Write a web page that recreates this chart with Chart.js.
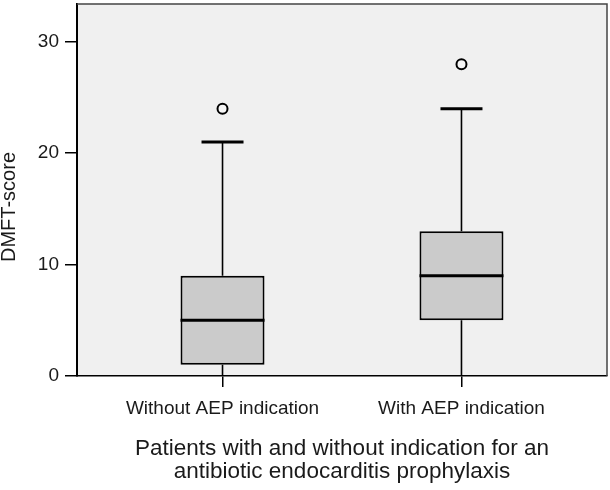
<!DOCTYPE html>
<html>
<head>
<meta charset="utf-8">
<script src="https://cdn.jsdelivr.net/npm/chart.js@4"></script>
<style>
  html, body { margin: 0; padding: 0; background: #ffffff; }
  #wrap { width: 610px; height: 490px; }
</style>
</head>
<body>
<div id="wrap"><canvas id="c" width="610" height="490"></canvas></div>
<script>
// ---- data ----
const categories = ['Without AEP indication', 'With AEP indication'];
const whiskerLow = [0, 0];
const q1 = [1, 5];
const median = [5, 9];
const q3 = [9, 13];
const whiskerHigh = [21, 24];
const outliers = [24, 28];
const yTicks = [0, 10, 20, 30];
const yTitle = 'DMFT-score';
const xTitle = ['Patients with and without indication for an', 'antibiotic endocarditis prophylaxis'];

const FONT = "'Liberation Sans', Arial, Helvetica, sans-serif";
const TEXT = '#1a1a1a';

const boxPlugin = {
  id: 'boxParts',
  beforeDraw(chart) {
    const {ctx, chartArea: a} = chart;
    ctx.save();
    ctx.fillStyle = '#f0f0f0';
    ctx.fillRect(a.left, a.top, a.right - a.left, a.bottom - a.top);
    ctx.restore();
  },
  afterDatasetsDraw(chart) {
    const {ctx, scales: {x, y}} = chart;
    ctx.save();
    ctx.strokeStyle = '#000';
    ctx.lineCap = 'butt';
    categories.forEach((c, i) => {
      const cx = x.getPixelForValue(i);
      // whiskers
      ctx.lineWidth = 1.6;
      ctx.beginPath();
      ctx.moveTo(cx, y.getPixelForValue(q3[i]));
      ctx.lineTo(cx, y.getPixelForValue(whiskerHigh[i]));
      ctx.moveTo(cx, y.getPixelForValue(q1[i]));
      ctx.lineTo(cx, y.getPixelForValue(whiskerLow[i]));
      ctx.stroke();
      // cap
      ctx.lineWidth = 3;
      ctx.beginPath();
      const yh = y.getPixelForValue(whiskerHigh[i]);
      ctx.moveTo(cx - 21, yh);
      ctx.lineTo(cx + 21, yh);
      ctx.stroke();
      // median
      ctx.lineWidth = 3;
      ctx.beginPath();
      const ym = y.getPixelForValue(median[i]);
      ctx.moveTo(cx - 42, ym);
      ctx.lineTo(cx + 42, ym);
      ctx.stroke();
    });
    ctx.restore();
  },
  afterDraw(chart) {
    const {ctx, chartArea: a} = chart;
    ctx.save();
    // frame top and right
    ctx.strokeStyle = '#444';
    ctx.lineWidth = 1.5;
    ctx.beginPath();
    ctx.moveTo(a.left, a.top);
    ctx.lineTo(a.right, a.top);
    ctx.lineTo(a.right, a.bottom);
    ctx.stroke();
    // y axis title
    ctx.fillStyle = TEXT;
    ctx.font = '20px ' + FONT;
    ctx.textAlign = 'center';
    ctx.textBaseline = 'alphabetic';
    ctx.translate(15, (a.top + a.bottom) / 2 + 17);
    ctx.rotate(-Math.PI / 2);
    ctx.fillText(yTitle, 0, 0);
    ctx.restore();
  }
};

new Chart(document.getElementById('c'), {
  type: 'bar',
  data: {
    datasets: [
      {
        type: 'bar',
        data: categories.map((c, i) => ({x: i, y: [q1[i], q3[i]]})),
        backgroundColor: '#cbcbcb',
        borderColor: '#000',
        borderWidth: 2,
        borderSkipped: false,
        barThickness: 84,
        inflateAmount: 0
      },
      {
        type: 'scatter',
        data: categories.map((c, i) => ({x: i, y: outliers[i]})),
        pointRadius: 5,
        pointBorderWidth: 2,
        pointBackgroundColor: '#f6f6f6',
        pointBorderColor: '#000',
        showLine: false
      }
    ]
  },
  options: {
    responsive: false,
    animation: false,
    events: [],
    layout: { autoPadding: false, padding: { left: 0, right: 3, top: 4, bottom: 0 } },
    plugins: { legend: { display: false }, tooltip: { enabled: false } },
    scales: {
      x: {
        type: 'linear',
        offset: false,
        min: -0.609,
        max: 1.609,
        afterBuildTicks(scale) { scale.ticks = categories.map((c, i) => ({value: i})); },
        afterFit(scale) { scale.height = 114; scale.paddingLeft = 0; scale.paddingRight = 0; },
        grid: { display: true, offset: false, drawOnChartArea: false, drawTicks: true, tickLength: 11, color: '#000', lineWidth: 1.5 },
        border: { display: true, color: '#000', width: 1.5 },
        ticks: {
          color: TEXT,
          padding: 10,
          maxRotation: 0,
          autoSkip: false,
          font: { family: FONT, size: 19, lineHeight: 1.2 },
          callback: (v) => categories[v]
        },
        title: {
          display: true,
          text: xTitle,
          color: TEXT,
          font: { family: FONT, size: 22.5, lineHeight: 1.0 },
          padding: { top: 0, bottom: 7 }
        }
      },
      y: {
        type: 'linear',
        min: 0,
        max: 33.4,
        afterBuildTicks(scale) { scale.ticks = yTicks.map(v => ({value: v})); },
        afterFit(scale) { scale.width = 77; scale.paddingTop = 0; scale.paddingBottom = 0; },
        grid: { display: true, drawOnChartArea: false, drawTicks: true, tickLength: 12, color: '#000', lineWidth: 1.5 },
        border: { display: true, color: '#000', width: 2 },
        ticks: {
          color: TEXT,
          padding: 6,
          font: { family: FONT, size: 19, lineHeight: 1.2 }
        }
      }
    }
  },
  plugins: [boxPlugin]
});
</script>
</body>
</html>
